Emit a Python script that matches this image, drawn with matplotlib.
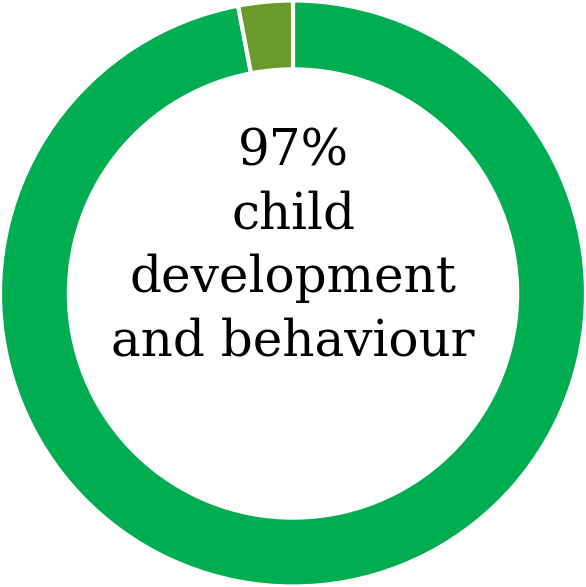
import matplotlib.pyplot as plt

labels = ['child development and behaviour', 'other']
values = [97, 3]
colors = ['#00AD50', '#6A992C']

fig = plt.figure(figsize=(5.86, 5.87), dpi=100)
ax = fig.add_axes([0, 0, 1, 1])

ax.pie(values, colors=colors, startangle=90, counterclock=False,
       radius=1.0,
       wedgeprops=dict(width=0.235, edgecolor='white', linewidth=3))

ax.text(0, 0.16, f'{values[0]}%\nchild\ndevelopment\nand behaviour',
        ha='center', va='center', fontsize=36, family='DejaVu Serif',
        linespacing=1.36, color='black')

ax.set_xlim(-1.0, 1.0)
ax.set_ylim(-1.0, 1.0)
ax.set_aspect('equal')
ax.axis('off')

plt.savefig('out.png', dpi=100)
